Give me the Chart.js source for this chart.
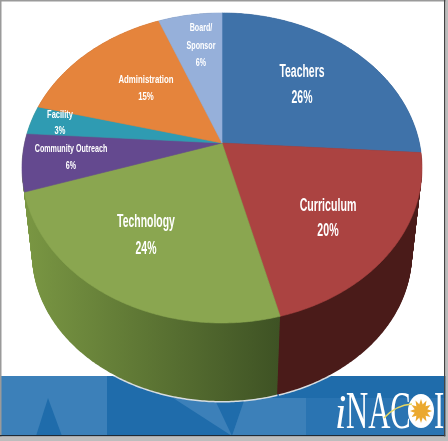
<!DOCTYPE html>
<html lang="en">
<head>
    <meta charset="utf-8">
    <title>Spending pie</title>
    <script src="https://cdn.jsdelivr.net/npm/chart.js"></script>
    <style>
        html, body { margin: 0; padding: 0; background: #fff; }
        canvas { display: block; filter: blur(0.45px); }
    </style>
</head>
<body>
    <canvas id="myChart" width="448" height="441"></canvas>
    <script>
        // values
        var categories = ["Teachers", "Curriculum", "Technology", "Community Outreach", "Facility", "Administration", "Board/ Sponsor"];
        var shares = [26, 20, 24, 6, 3, 15, 6];

        var topColors = ["#3f72a9", "#ab4341", "#8aa650", "#64498f", "#2f9bb2", "#e5843c", "#96b0da"];
        var sideLeft = ["#26446a", "#4a1b19", "#7a9743", "#7a9743", "#7a9743", "#8c5024", "#5c6c86"];
        var sideRight = ["#26446a", "#4a1b19", "#3e5224", "#7a9743", "#7a9743", "#8c5024", "#5c6c86"];

        // label centres and text, one line per row
        var labelLines = [["Teachers", "26%"], ["Curriculum", "20%"], ["Technology", "24%"], ["Community Outreach", "6%"], ["Facility", "3%"], ["Administration", "15%"], ["Board/", "Sponsor", "6%"]];
        var labelX = [302, 328, 146, 71, 60, 146, 201];
        var labelY = [72, 206, 222, 149, 115, 80, 28];
        var labelSize = [18, 18, 18, 11.5, 11.5, 11.5, 11.5];
        var labelGap = [26, 25, 27, 17, 16, 17, 17.5];
        var labelStretch = [0.58, 0.59, 0.58, 0.62, 0.65, 0.68, 0.62];

        // perspective of the tilted disc: unit circle -> screen
        var tilt = 0.161;
        function project(a, f, cy) {
            var x = Math.cos(a), y = Math.sin(a), d = 1 - tilt * y;
            return [222 + f * 197.4 * x / d, cy + f * 151 * y / d];
        }

        function slicePath(ctx, arc, f, cy) {
            ctx.beginPath();
            ctx.moveTo(222, cy);
            for (var a = arc.startAngle; a < arc.endAngle; a += 0.01) {
                var p = project(a, f, cy);
                ctx.lineTo(p[0], p[1]);
            }
            var e = project(arc.endAngle, f, cy);
            ctx.lineTo(e[0], e[1]);
            ctx.closePath();
        }

        function poly(ctx, color, pts) {
            ctx.fillStyle = color;
            ctx.beginPath();
            for (var i = 0; i < pts.length; i++) {
                ctx.lineTo(pts[i][0], pts[i][1]);
            }
            ctx.closePath();
            ctx.fill();
        }

        function drawBanner(ctx) {
            ctx.fillStyle = "#fff";
            ctx.fillRect(0, 0, 448, 441);
            ctx.fillStyle = "#1f6cab";
            ctx.fillRect(0, 376, 446, 60);
            ctx.fillStyle = "#3c80b9";
            ctx.fillRect(0, 376, 107, 60);
            poly(ctx, "#3c80b9", [[170, 396], [215, 400], [232, 436]]);
            poly(ctx, "#1f6cab", [[48, 398], [36, 436], [62, 436]]);
            poly(ctx, "#2a74b2", [[232, 436], [245, 398], [446, 398], [446, 436]]);
            poly(ctx, "#3c80b9", [[232, 436], [245, 398], [306, 398], [306, 436]]);
            // picture frame
            ctx.fillStyle = "#9a9a9a";
            ctx.fillRect(0, 0, 448, 1.5);
            ctx.fillRect(0, 0, 1.5, 437);
            ctx.fillStyle = "#1e2a36";
            ctx.fillRect(0, 435, 446, 1.5);
            ctx.fillStyle = "#444";
            ctx.fillRect(444, 0, 1.5, 437);
            ctx.fillStyle = "#bdbdbd";
            ctx.fillRect(445.5, 0, 2.5, 441);
            ctx.fillRect(0, 436.5, 448, 4.5);
        }

        function drawLogo(ctx) {
            ctx.save();
            ctx.fillStyle = "#fff";
            ctx.textAlign = "left";
            ctx.textBaseline = "alphabetic";
            ctx.save();
            ctx.translate(335, 428);
            ctx.scale(0.85, 1);
            ctx.font = "italic 48px 'Liberation Serif'";
            ctx.fillText("i", 0, 0);
            ctx.restore();
            ctx.save();
            ctx.translate(346, 428);
            ctx.scale(0.59, 1);
            ctx.font = "52px 'Liberation Serif'";
            ctx.fillText("NAC", 0, 0);
            ctx.restore();
            ctx.save();
            ctx.translate(434, 428);
            ctx.scale(0.59, 1);
            ctx.font = "52px 'Liberation Serif'";
            ctx.fillText("I", 0, 0);
            ctx.restore();
            // the sun in the O
            ctx.beginPath();
            ctx.ellipse(421, 411, 13, 17, 0, 0, Math.PI * 2);
            ctx.fill();
            ctx.fillStyle = "#eba92f";
            for (var i = 0; i < 12; i++) {
                var a = i * Math.PI / 6;
                ctx.beginPath();
                ctx.moveTo(421 + 11 * Math.cos(a), 411 + 12 * Math.sin(a));
                ctx.lineTo(421 + 5 * Math.cos(a + 0.5), 411 + 5 * Math.sin(a + 0.5));
                ctx.lineTo(421 + 5 * Math.cos(a - 0.5), 411 + 5 * Math.sin(a - 0.5));
                ctx.closePath();
                ctx.fill();
            }
            ctx.beginPath();
            ctx.arc(421, 411, 6, 0, Math.PI * 2);
            ctx.fill();
            ctx.strokeStyle = "#e8d860";
            ctx.lineWidth = 1.3;
            ctx.beginPath();
            ctx.moveTo(384, 418);
            ctx.quadraticCurveTo(396, 405, 412, 404);
            ctx.stroke();
            ctx.restore();
        }

        var tiltedPie = {
            id: "tiltedPie",
            beforeDraw: function (chart) {
                drawBanner(chart.ctx);
                drawLogo(chart.ctx);
            },
            beforeDatasetsDraw: function (chart) {
                var ctx = chart.ctx;
                var arcs = chart.getDatasetMeta(0).data;
                var i;

                // pale rim under the disc, only shows where it crosses the banner
                ctx.save();
                ctx.beginPath();
                ctx.rect(0, 376, 448, 60);
                ctx.clip();
                ctx.strokeStyle = "#d8dde0";
                ctx.lineWidth = 3;
                for (i = 0; i < arcs.length; i++) {
                    ctx.beginPath();
                    for (var a = arcs[i].startAngle; a < arcs[i].endAngle; a += 0.01) {
                        var r = project(a, 0.95, 230);
                        ctx.lineTo(r[0], r[1]);
                    }
                    ctx.stroke();
                }
                ctx.restore();

                // the wall: copies of the slices stacked from the floor up
                var depth = 87;
                for (var s = 0; s <= depth; s++) {
                    var t = s / depth;
                    var f = 0.95 + 0.05 * t;
                    var cy = 230 - depth * t;
                    for (i = 0; i < arcs.length; i++) {
                        var grad = ctx.createLinearGradient(24, 0, 280, 0);
                        grad.addColorStop(0, sideLeft[i]);
                        grad.addColorStop(1, sideRight[i]);
                        ctx.fillStyle = grad;
                        slicePath(ctx, arcs[i], f, cy);
                        ctx.fill();
                    }
                }

                // top face
                for (i = 0; i < arcs.length; i++) {
                    ctx.fillStyle = topColors[i];
                    slicePath(ctx, arcs[i], 1, 143);
                    ctx.fill();
                    ctx.strokeStyle = topColors[i];
                    ctx.lineWidth = 0.6;
                    ctx.stroke();
                }

                // labels
                ctx.fillStyle = "#fff";
                ctx.textAlign = "center";
                ctx.textBaseline = "middle";
                for (i = 0; i < labelLines.length; i++) {
                    ctx.font = "bold " + labelSize[i] + "px 'Liberation Sans'";
                    for (var n = 0; n < labelLines[i].length; n++) {
                        ctx.save();
                        ctx.translate(labelX[i], labelY[i] + n * labelGap[i]);
                        ctx.scale(labelStretch[i], 1);
                        ctx.fillText(labelLines[i][n], 0, 0);
                        ctx.restore();
                    }
                }
                return false;
            }
        };

        var myChart = new Chart(document.getElementById("myChart").getContext("2d"), {
            type: "pie",
            data: {
                labels: categories,
                datasets: [{ data: shares, backgroundColor: topColors, borderWidth: 0 }]
            },
            options: {
                responsive: false,
                animation: false,
                events: [],
                plugins: { legend: { display: false }, tooltip: { enabled: false } }
            },
            plugins: [tiltedPie]
        });
    </script>
</body>
</html>
